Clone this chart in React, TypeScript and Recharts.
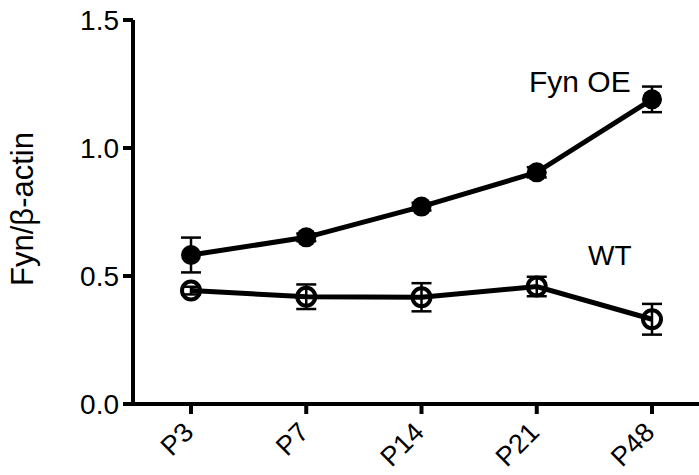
import React from "react"
import {
  LineChart,
  Line,
  XAxis,
  YAxis,
  ErrorBar,
  Customized,
} from "recharts"

const ages = ["P3", "P7", "P14", "P21", "P48"]
const fynOE = [0.582, 0.651, 0.771, 0.905, 1.19]
const fynOEErr = [0.068, 0.015, 0.015, 0.02, 0.05]
const wt = [0.443, 0.419, 0.417, 0.459, 0.331]
const wtErr = [0.015, 0.048, 0.055, 0.038, 0.06]
const yTicks = [0, 0.5, 1.0, 1.5]

const data = ages.map((age, i) => ({
  age,
  fyn: fynOE[i],
  fynErr: fynOEErr[i],
  wt: wt[i],
  wtErr: wtErr[i],
}))

const FONT = "'Liberation Sans', Arial, Helvetica, sans-serif"

// eslint-disable-next-line @typescript-eslint/no-explicit-any
function AgeTick({ x, y, payload }: any) {
  return (
    <g transform={`translate(${x + 4},${y + 18})`}>
      <text
        x={0}
        y={0}
        textAnchor="end"
        transform="rotate(-45)"
        fontSize={27}
        fontFamily={FONT}
        fill="#000"
      >
        {payload.value}
      </text>
    </g>
  )
}

function Annotations() {
  return (
    <g fontFamily={FONT} fill="#000">
      <text x={33} y={209} fontSize={31} textAnchor="middle" transform="rotate(-90, 33, 209)">
        Fyn/β-actin
      </text>
      <text x={529} y={92} fontSize={30}>Fyn OE</text>
      <text x={588} y={265} fontSize={28}>WT</text>
    </g>
  )
}

export default function App() {
  return (
    <div style={{ position: "absolute", left: 0, top: 0, background: "#fff" }}>
      <LineChart width={699} height={475} data={data} margin={{ top: 20, right: 0, bottom: 0, left: 0 }}>
        <XAxis
          dataKey="age"
          height={71}
          padding={{ left: 58, right: 47 }}
          stroke="#000"
          strokeWidth={4}
          tickSize={10}
          tickLine={{ stroke: "#000", strokeWidth: 4 }}
          tick={<AgeTick />}
          interval={0}
        />
        <YAxis
          domain={[0, 1.5]}
          ticks={yTicks}
          width={133}
          stroke="#000"
          strokeWidth={4}
          tickSize={10}
          tickMargin={4}
          tickLine={{ stroke: "#000", strokeWidth: 4 }}
          tick={{ fontSize: 28, fill: "#000", fontFamily: FONT }}
          tickFormatter={(v) => v.toFixed(1)}
        />
        <Line
          dataKey="fyn"
          stroke="#000"
          strokeWidth={5}
          isAnimationActive={false}
          dot={{ r: 10, fill: "#000", stroke: "#000", strokeWidth: 0 }}
          activeDot={false}
        >
          <ErrorBar dataKey="fynErr" width={10} stroke="#000" strokeWidth={2.5} />
        </Line>
        <Line
          dataKey="wt"
          stroke="#000"
          strokeWidth={5}
          isAnimationActive={false}
          dot={{ r: 9, fill: "none", stroke: "#000", strokeWidth: 4 }}
          activeDot={false}
        >
          <ErrorBar dataKey="wtErr" width={10} stroke="#000" strokeWidth={2.5} />
        </Line>
        <Customized component={Annotations} />
      </LineChart>
    </div>
  )
}
